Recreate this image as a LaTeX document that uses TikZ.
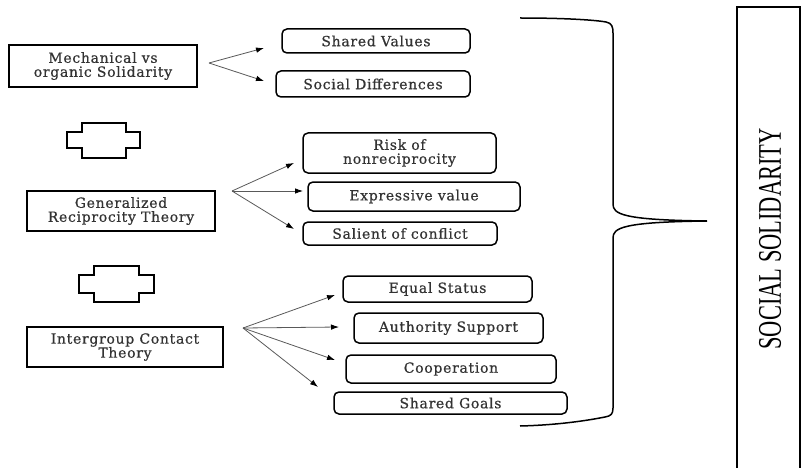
\documentclass[tikz,border=0pt]{standalone}
\usepackage{fontspec}
\setmainfont{DejaVu Serif}[LetterSpace=5,FakeBold=0.6]
\newfontfamily\titlefont{Liberation Serif}
\usetikzlibrary{arrows.meta}
\begin{document}
\begin{tikzpicture}[x=1pt,y=-1pt,
  txt/.style={font=\fontsize{14}{14}\selectfont, align=center, inner sep=0pt, text=black!80},
  sqbox/.style={txt, draw, line width=1.8pt},
  rbox/.style={txt, draw, line width=1.5pt, rounded corners=5pt},
  fan/.style={draw=black!65, line width=0.8pt, -{Latex[length=8pt,width=5.5pt,color=black]}},
  crossshape/.style={draw, line width=1.8pt},
  bracestyle/.style={draw, line width=1.5pt}
]
\useasboundingbox (0,0) rectangle (803,468);

% left theory boxes
\node[sqbox, minimum width=188pt, minimum height=42pt] (mech) at (103,66) {Mechanical vs\\organic Solidarity};
\node[sqbox, minimum width=188pt, minimum height=40pt] (gen) at (121,211) {Generalized\\Reciprocity Theory};
\node[sqbox, minimum width=196pt, minimum height=40pt] (inter) at (125,347) {Intergroup Contact\\Theory};

% right item boxes
\node[rbox, minimum width=188pt, minimum height=24pt] (sv) at (376,41) {Shared Values};
\node[rbox, minimum width=194pt, minimum height=26pt] (sd) at (373,84) {Social Differences};
\node[rbox, minimum width=193pt, minimum height=40pt] (risk) at (399.5,153) {Risk of\\nonreciprocity};
\node[rbox, minimum width=212pt, minimum height=29pt] (expr) at (414,196.5) {Expressive value};
\node[rbox, minimum width=194pt, minimum height=23pt] (sal) at (400,233.5) {Salient of conflict};
\node[rbox, minimum width=189pt, minimum height=26pt] (eq) at (437.5,289) {Equal Status};
\node[rbox, minimum width=189pt, minimum height=30pt] (auth) at (448.5,328) {Authority Support};
\node[rbox, minimum width=210pt, minimum height=28pt] (coop) at (451,369) {Cooperation};
\node[rbox, minimum width=233pt, minimum height=22pt] (goals) at (450.5,403) {Shared Goals};

% fan origins and arrow tips
\coordinate (o1) at (209,63);
\coordinate (o2) at (232,191);
\coordinate (o3) at (243,328);
\coordinate (t1a) at (264,48);
\coordinate (t1b) at (264,81);
\coordinate (t2a) at (294,163);
\coordinate (t2b) at (303,191);
\coordinate (t2c) at (294,229);
\coordinate (t3a) at (335,295);
\coordinate (t3b) at (339,327);
\coordinate (t3c) at (335,360);
\coordinate (t3d) at (318,387);

\draw[fan] (o1) -- (t1a);
\draw[fan] (o1) -- (t1b);
\draw[fan] (o2) -- (t2a);
\draw[fan] (o2) -- (t2b);
\draw[fan] (o2) -- (t2c);
\draw[fan] (o3) -- (t3a);
\draw[fan] (o3) -- (t3b);
\draw[fan] (o3) -- (t3c);
\draw[fan] (o3) -- (t3d);

% plus-like connectors between theories
\draw[crossshape] (82,123) -- (126,123) -- (126,132) -- (140,132) -- (140,148) -- (126,148) -- (126,158) -- (82,158) -- (82,148) -- (67,148) -- (67,132) -- (82,132) -- cycle;
\draw[crossshape] (94,266) -- (139,266) -- (139,275) -- (154,275) -- (154,293) -- (139,293) -- (139,302) -- (94,302) -- (94,293) -- (79,293) -- (79,275) -- (94,275) -- cycle;

% curly brace
\draw[bracestyle] (520,18) .. controls (565,18) and (595,20) .. (606,22)
  .. controls (612,23) and (613,27) .. (613,33) -- (613,204)
  .. controls (613,214) and (622,220) .. (707,221)
  .. controls (622,222) and (613,228) .. (613,238) -- (613,408)
  .. controls (613,414) and (611,416) .. (605,417)
  .. controls (590,420) and (560,425) .. (520,426);

% result box
\draw[line width=1.8pt] (737,475) -- (737,7) -- (800,7) -- (800,475);
\node[rotate=90, inner sep=0pt, font=\titlefont\fontsize{33}{36}\selectfont] (ss) at (770,239) {\scalebox{0.68}[1]{SOCIAL SOLIDARITY}};
\end{tikzpicture}
\end{document}
